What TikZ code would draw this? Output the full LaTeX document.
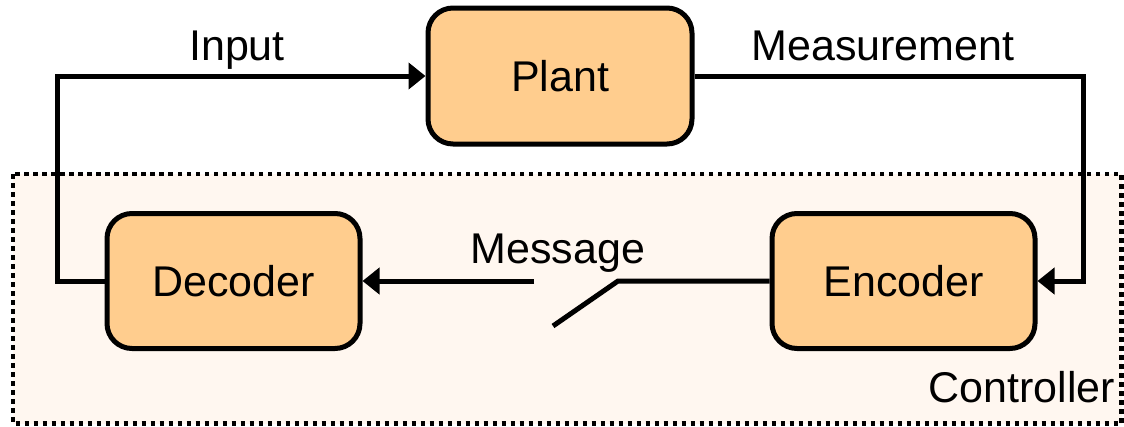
\documentclass[tikz,border=0pt]{standalone}
\usepackage{fontspec}
\setmainfont{Liberation Sans}
\usetikzlibrary{arrows.meta}
\definecolor{boxfill}{RGB}{255,205,142}
\definecolor{ctrlfill}{RGB}{255,247,240}
\tikzset{
  blk/.style={draw=black, line width=5pt, fill=boxfill, rounded corners=25pt,
    font=\fontsize{43}{49}\selectfont, inner sep=0pt},
  conn/.style={line width=5pt},
  arr/.style={conn, -{Triangle[length=17pt,width=26pt]}},
  lbl/.style={font=\fontsize{43}{49}\selectfont, anchor=base, inner sep=0pt},
}
\begin{document}
\begin{tikzpicture}[x=1pt,y=-1pt]
\useasboundingbox (0,0) rectangle (1124,426);
\draw[line width=4.5pt, fill=ctrlfill, dash pattern=on 4.5pt off 4.5pt] (13,174) rectangle (1121.5,423.5);
\node[blk, minimum width=264pt, minimum height=136pt] (plant) at (560,76) {Plant};
\node[blk, minimum width=253pt, minimum height=135pt] (dec) at (233.5,281) {Decoder};
\node[blk, minimum width=263pt, minimum height=135pt] (enc) at (903.5,281) {Encoder};
\coordinate (L) at (57,76);
\coordinate (R) at (1083,76);
\draw[arr] (dec.west) -| (L) -- (plant.west);
\draw[arr] (plant.east) -- (R) |- (enc.east);
\coordinate (s1) at (618,281);
\coordinate (s2) at (553,326);
\coordinate (s3) at (534,281);
\draw[conn] (enc.west) -- (s1) -- (s2);
\draw[arr] (s3) -- (dec.east);
\node[lbl] (tin) at (237,60) {Input};
\node[lbl] (tmeas) at (883,60) {Measurement};
\node[lbl] (tmsg) at (558,263) {Message};
\node[lbl] (tctrl) at (1022,402) {Controller};
\end{tikzpicture}
\end{document}
